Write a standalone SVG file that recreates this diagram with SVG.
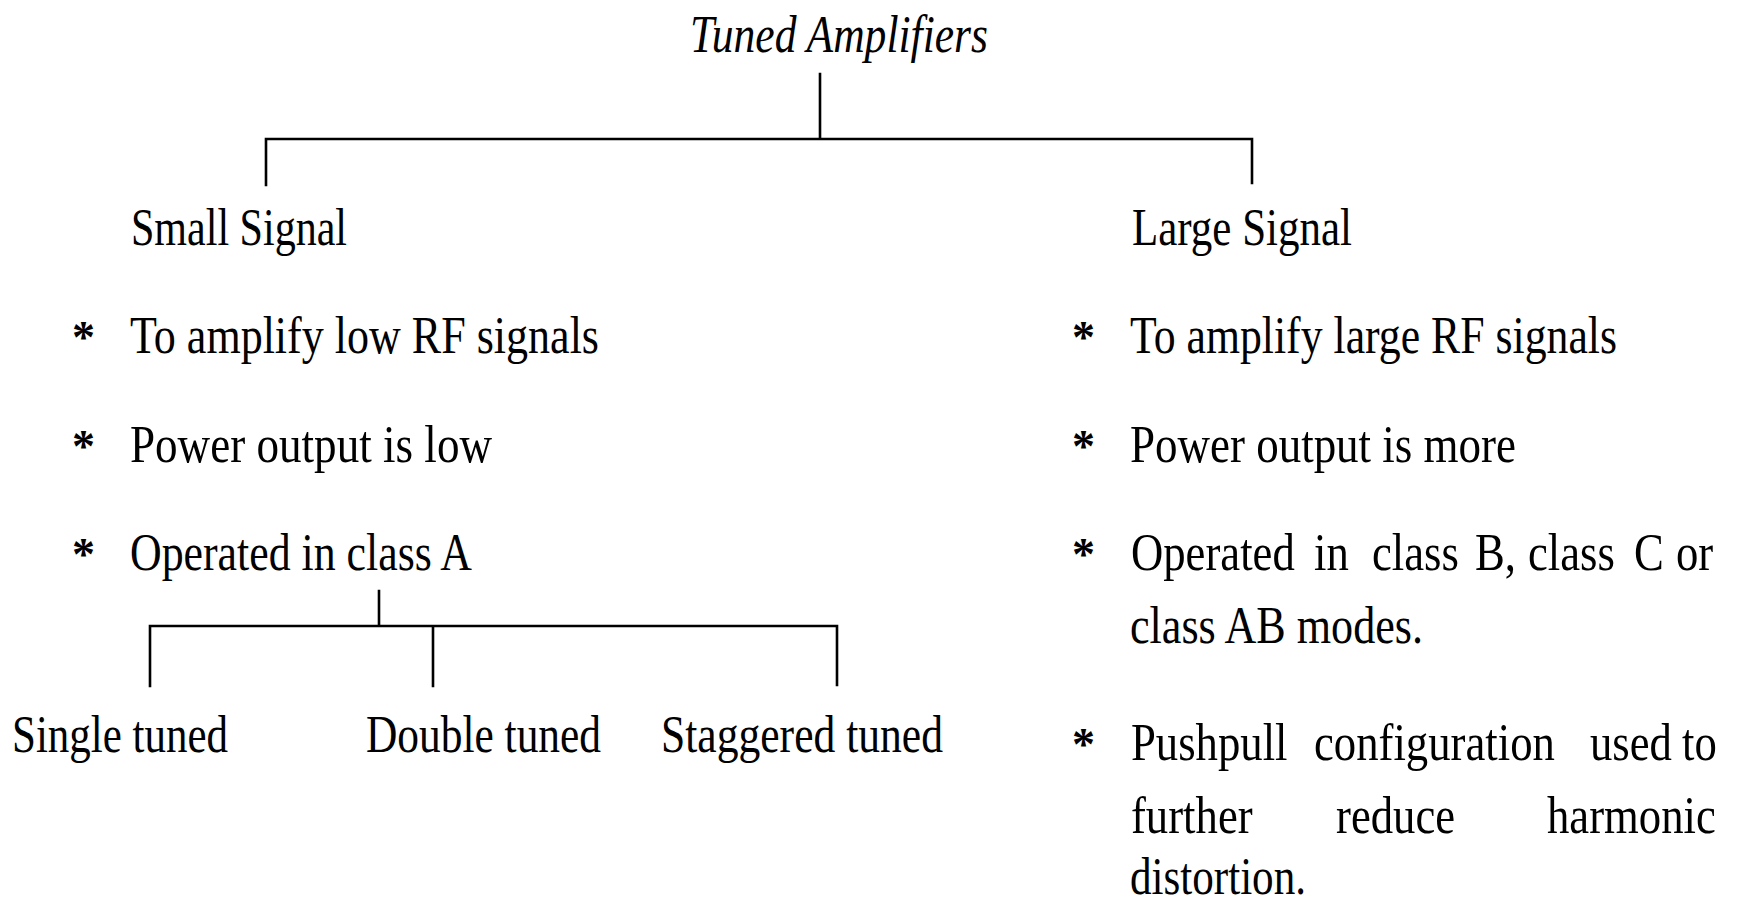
<svg xmlns="http://www.w3.org/2000/svg" width="1740" height="904" viewBox="0 0 1740 904">
<style>
text{font-family:"Liberation Serif","Times New Roman",serif;font-size:52px;fill:#000}
.it{font-style:italic}
.b{font-weight:bold;font-size:46px}
.c{fill:none;stroke:#000;stroke-width:2.6;stroke-linecap:square}
</style>
<rect width="1740" height="904" fill="#fff"/>
<g id="connectors">
<path class="c" d="M820,74 V139 M266,139 H1252 M266,139 V185 M1252,139 V183"/>
<path class="c" d="M379,591 V626 M150,626 H837 M150,626 V686 M433,626 V686 M837,626 V685"/>
</g>
<g id="root"><text class="it" x="690" y="52" textLength="298" lengthAdjust="spacingAndGlyphs">Tuned Amplifiers</text></g>
<g id="small-signal">
<text x="131" y="245" textLength="216" lengthAdjust="spacingAndGlyphs">Small Signal</text>
<text class="b" x="72" y="353">*</text><text x="130" y="353" textLength="469" lengthAdjust="spacingAndGlyphs">To amplify low RF signals</text>
<text class="b" x="72" y="462">*</text><text x="130" y="462" textLength="362" lengthAdjust="spacingAndGlyphs">Power output is low</text>
<text class="b" x="72" y="570">*</text><text x="130" y="570" textLength="342" lengthAdjust="spacingAndGlyphs">Operated in class A</text>
</g>
<g id="single-tuned"><text x="12" y="752" textLength="216" lengthAdjust="spacingAndGlyphs">Single tuned</text></g>
<g id="double-tuned"><text x="366" y="752" textLength="235" lengthAdjust="spacingAndGlyphs">Double tuned</text></g>
<g id="staggered-tuned"><text x="661" y="752" textLength="282" lengthAdjust="spacingAndGlyphs">Staggered tuned</text></g>
<g id="large-signal">
<text x="1132" y="245" textLength="220" lengthAdjust="spacingAndGlyphs">Large Signal</text>
<text class="b" x="1072" y="353">*</text><text x="1130" y="353" textLength="487" lengthAdjust="spacingAndGlyphs">To amplify large RF signals</text>
<text class="b" x="1072" y="462">*</text><text x="1130" y="462" textLength="386" lengthAdjust="spacingAndGlyphs">Power output is more</text>
<text class="b" x="1072" y="570">*</text>
<text transform="scale(0.86,1)" y="570"><tspan x="1315.1">Operated</tspan><tspan x="1527.9">in</tspan><tspan x="1595.3">class</tspan><tspan x="1715.1">B,</tspan><tspan x="1776.7">class</tspan><tspan x="1900">C</tspan><tspan x="1948.8">or</tspan></text>
<text x="1130" y="643" textLength="293" lengthAdjust="spacingAndGlyphs">class AB modes.</text>
<text class="b" x="1072" y="760">*</text>
<text transform="scale(0.86,1)" y="760"><tspan x="1315.1">Pushpull</tspan><tspan x="1527.9">configuration</tspan><tspan x="1848.8">used</tspan><tspan x="1955.8">to</tspan></text>
<text transform="scale(0.86,1)" y="833"><tspan x="1315.1">further</tspan><tspan x="1553.5">reduce</tspan><tspan x="1798.8">harmonic</tspan></text>
<text x="1130" y="894" textLength="176" lengthAdjust="spacingAndGlyphs">distortion.</text>
</g>
</svg>
